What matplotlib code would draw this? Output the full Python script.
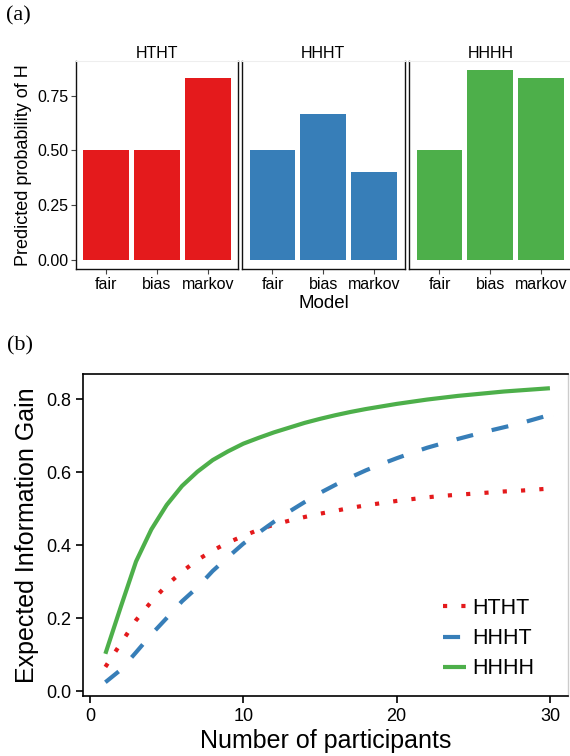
import numpy as np
import matplotlib
matplotlib.use("Agg")
import matplotlib.pyplot as plt

plt.rcParams['font.family'] = ['Liberation Sans', 'DejaVu Sans']

# panel (a): predicted probability of H for each sequence and model
sequences = ["HTHT", "HHHT", "HHHH"]
models = ["fair", "bias", "markov"]
p_htht = [0.5, 0.5, 0.833]
p_hhht = [0.5, 0.667, 0.4]
p_hhhh = [0.5, 0.867, 0.833]
seq_colors = ["#E41A1C", "#377EB8", "#4DAF4A"]

# panel (b): expected information gain vs number of participants
n_participants = list(range(1, 31))
eig_htht = [0.066, 0.130, 0.194, 0.245, 0.290, 0.327, 0.359, 0.385, 0.407, 0.425,
            0.442, 0.456, 0.467, 0.477, 0.486, 0.494, 0.502, 0.509, 0.515, 0.521,
            0.526, 0.531, 0.535, 0.538, 0.541, 0.544, 0.547, 0.549, 0.552, 0.555]
eig_hhht = [0.024, 0.058, 0.106, 0.155, 0.200, 0.246, 0.284, 0.329, 0.367, 0.404,
            0.434, 0.464, 0.492, 0.518, 0.543, 0.565, 0.586, 0.605, 0.622, 0.638,
            0.653, 0.667, 0.679, 0.691, 0.702, 0.713, 0.723, 0.733, 0.745, 0.757]
eig_hhhh = [0.102, 0.230, 0.355, 0.443, 0.510, 0.562, 0.601, 0.633, 0.657, 0.678,
            0.694, 0.709, 0.722, 0.735, 0.746, 0.756, 0.765, 0.773, 0.780, 0.787,
            0.793, 0.799, 0.804, 0.809, 0.813, 0.817, 0.821, 0.824, 0.827, 0.830]

W, H = 570, 756
fig = plt.figure(figsize=(W / 100, H / 100), dpi=100)

def box(l, t, r, b):
    # pixel box -> figure fraction
    return [l / W, 1 - b / H, (r - l) / W, (b - t) / H]

# ---- (a) ----
probs = [p_htht, p_hhht, p_hhhh]
lefts = [75.7, 242.0, 409.0]
pw = 162.6
xpos = np.arange(1, 4)
for i, (seq, vals, col) in enumerate(zip(sequences, probs, seq_colors)):
    ax = fig.add_axes(box(lefts[i], 61, lefts[i] + pw, 269))
    ax.bar(xpos, vals, width=0.9, color=col)
    ax.set_xlim(0.4, 3.6)
    ax.set_ylim(-0.043, 0.91)
    ax.set_xticks(xpos)
    ax.set_xticklabels(models)
    for s in ["left", "bottom", "right"]:
        ax.spines[s].set_linewidth(1.0)
        ax.spines[s].set_color("#111111")
    ax.spines["top"].set_color("#eeeeee")
    ax.spines["top"].set_linewidth(0.8)
    ax.tick_params(axis="x", length=3.5, width=0.8, color="#444444", pad=2.0,
                   labelsize=11.5)
    if i == 0:
        ax.set_yticks([0, 0.25, 0.5, 0.75])
        ax.set_yticklabels(["0.00", "0.25", "0.50", "0.75"])
        ax.tick_params(axis="y", length=3.5, width=0.8, color="#444444", pad=1.5,
                       labelsize=11.5)
    else:
        ax.set_yticks([])
    ax.set_title(seq, fontsize=11.5, pad=2.4)

fig.text(23.7 / W, 1 - 165 / H, "Predicted probability of H", rotation=90,
         ha="center", va="center", fontsize=13)
fig.text(323.7 / W, 1 - 308 / H, "Model", ha="center", va="baseline", fontsize=13.5)
fig.text(6 / W, 1 - 20.5 / H, "(a)", family="Liberation Serif", fontsize=16,
         va="baseline")

# ---- (b) ----
ax = fig.add_axes(box(83.3, 374, 568, 696))
ax.plot(n_participants, eig_htht, color=seq_colors[0], lw=3, dashes=(1, 3.4),
        dash_capstyle="butt", label="HTHT")
ax.plot(n_participants, eig_hhht, color=seq_colors[1], lw=3, dashes=(4.1, 4.6),
        dash_capstyle="butt", label="HHHT")
ax.plot(n_participants, eig_hhhh, color=seq_colors[2], lw=3,
        solid_capstyle="butt", label="HHHH")
ax.set_xlim(-0.44, 31.18)
ax.set_ylim(-0.0137, 0.869)
ax.set_xticks([0, 10, 20, 30])
ax.set_yticks([0, 0.2, 0.4, 0.6, 0.8])
ax.set_yticklabels(["0.0", "0.2", "0.4", "0.6", "0.8"])
for s in ["left", "bottom", "top"]:
    ax.spines[s].set_linewidth(1.2)
    ax.spines[s].set_color("black")
ax.spines["right"].set_color("#cccccc")
ax.spines["right"].set_linewidth(1.0)
ax.tick_params(length=5, width=1.2, pad=3.5, labelsize=13)

leg = ax.legend(loc="upper left", bbox_to_anchor=(443 / W, 1 - 598 / H),
                bbox_transform=fig.transFigure, frameon=False, fontsize=15.5,
                handlelength=1.07, handletextpad=0.28, labelspacing=0.42,
                borderpad=0, borderaxespad=0)

fig.text(27.5 / W, 1 - 535 / H, "Expected Information Gain", rotation=90,
         ha="center", va="center", fontsize=18)
fig.text(325.7 / W, 1 - 748 / H, "Number of participants", ha="center",
         va="baseline", fontsize=18)
fig.text(7 / W, 1 - 350 / H, "(b)", family="Liberation Serif", fontsize=16,
         va="baseline")

fig.savefig("out.png", dpi=100)
